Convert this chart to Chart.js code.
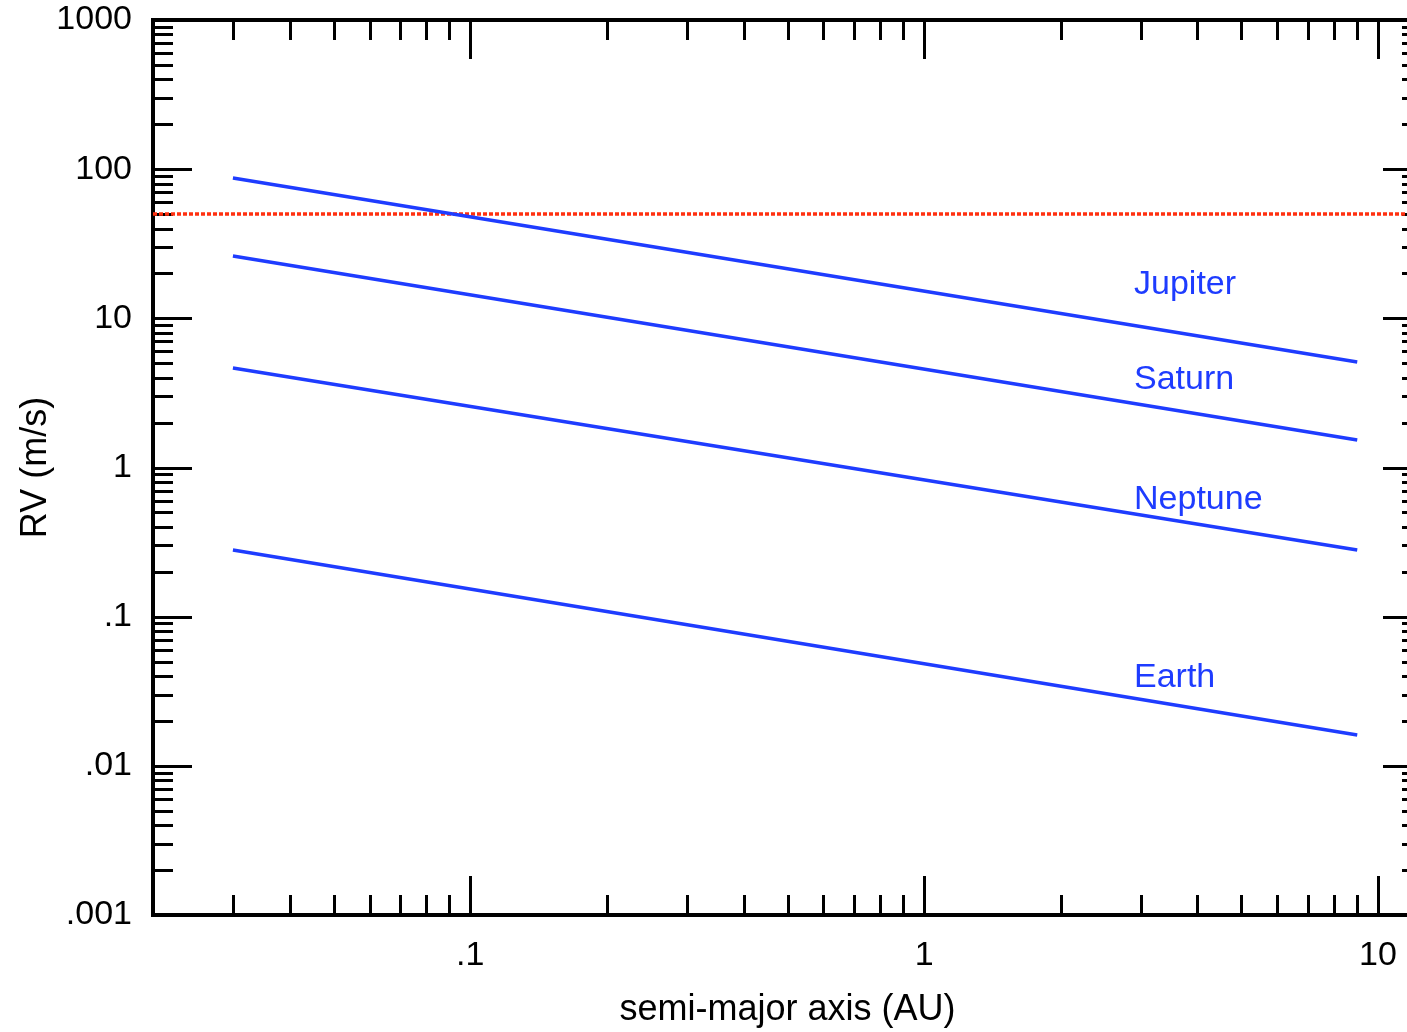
<!DOCTYPE html>
<html>
<head>
<meta charset="utf-8">
<script src="https://cdn.jsdelivr.net/npm/chart.js@4/dist/chart.umd.min.js"></script>
<style>
  html, body { margin: 0; padding: 0; background: #ffffff; overflow: hidden; }
  #wrap { width: 1430px; height: 1032px; }
</style>
</head>
<body>
<div id="wrap"><canvas id="rv" width="1430" height="1032"></canvas></div>
<script>
// Semi-major axis (AU) at the two ends of each curve
const axisAU = [0.03, 9];
// Radial-velocity semi-amplitude (m/s) at those ends
const jupiterRV = [87.3, 5.09];
const saturnRV = [26.2, 1.53];
const neptuneRV = [4.64, 0.28];
const earthRV = [0.28, 0.0161];

// Detection threshold
const thresholdAU = [0.02, 12.5];
const thresholdRV = [50, 50];

// Curve labels and where they sit (AU, m/s at text baseline)
const planetNames = ['Jupiter', 'Saturn', 'Neptune', 'Earth'];
const labelAU = [2.9, 2.9, 2.9, 2.9];
const labelRV = [14.5, 3.34, 0.523, 0.034];

// Axis ticks
const xTickValues = [0.1, 1, 10];
const xTickLabels = ['.1', '1', '10'];
const yTickValues = [0.001, 0.01, 0.1, 1, 10, 100, 1000];
const yTickLabels = ['.001', '.01', '.1', '1', '10', '100', '1000'];

const X_MIN = 0.02, X_MAX = 12.5, Y_MIN = 0.001, Y_MAX = 1000;
const BLUE = '#1e3cff';
const RED = '#ff3010';

function pts(xs, ys) { return xs.map((x, i) => ({ x: x, y: ys[i] })); }

function curve(label, ys) {
  return {
    label: label, data: pts(axisAU, ys), borderColor: BLUE, borderWidth: 3.5,
    pointRadius: 0, fill: false, tension: 0
  };
}

// Inward tick marks on all four sides plus the frame
const frameTicks = {
  id: 'frameTicks',
  beforeDatasetsDraw(chart) {
    const { ctx, chartArea: a, scales: { x, y } } = chart;
    ctx.save();
    ctx.strokeStyle = '#000';
    ctx.lineCap = 'butt';
    ctx.lineWidth = 3;
    const tick = (x0, y0, x1, y1) => { ctx.beginPath(); ctx.moveTo(x0, y0); ctx.lineTo(x1, y1); ctx.stroke(); };
    const MAJ = 39, MIN = 20;
    // x axis (bottom and top)
    for (let d = -2; d <= 1; d++) {
      for (let m = 1; m <= 9; m++) {
        const v = m * Math.pow(10, d);
        if (v < X_MIN - 1e-9 || v > X_MAX) continue;
        const px = Math.round(x.getPixelForValue(v)) + 0.5;
        const len = m === 1 ? MAJ : MIN;
        tick(px, a.bottom, px, a.bottom - len);
        tick(px, a.top, px, a.top + len);
      }
    }
    // y axis (left and right)
    for (let d = -3; d <= 3; d++) {
      for (let m = 1; m <= 9; m++) {
        const v = m * Math.pow(10, d);
        if (v < Y_MIN - 1e-12 || v > Y_MAX + 1e-9) continue;
        const py = Math.round(y.getPixelForValue(v)) + 0.5;
        const len = m === 1 ? MAJ : MIN;
        tick(a.left, py, a.left + len, py);
        tick(a.right, py, a.right - len, py);
      }
    }
    ctx.lineWidth = 4;
    ctx.strokeRect(a.left, a.top, a.right - a.left, a.bottom - a.top);
    ctx.restore();
  },
  afterDatasetsDraw(chart) {
    const { ctx, scales: { x, y } } = chart;
    ctx.save();
    ctx.fillStyle = BLUE;
    ctx.font = '34px "Liberation Sans", Arial, sans-serif';
    ctx.textAlign = 'left';
    ctx.textBaseline = 'alphabetic';
    planetNames.forEach((name, i) => {
      ctx.fillText(name, x.getPixelForValue(labelAU[i]), y.getPixelForValue(labelRV[i]));
    });
    ctx.restore();
  }
};

const tickFont = { family: '"Liberation Sans", Arial, sans-serif', size: 34 };
const titleFont = { family: '"Liberation Sans", Arial, sans-serif', size: 36 };

new Chart(document.getElementById('rv'), {
  type: 'line',
  data: {
    datasets: [
      curve('Jupiter', jupiterRV),
      curve('Saturn', saturnRV),
      curve('Neptune', neptuneRV),
      curve('Earth', earthRV),
      {
        label: 'threshold', data: pts(thresholdAU, thresholdRV), borderColor: RED,
        borderWidth: 3.5, borderDash: [4, 2], pointRadius: 0, fill: false
      }
    ]
  },
  options: {
    responsive: false,
    animation: false,
    devicePixelRatio: 1,
    layout: { padding: { left: 0, top: 20, right: 8, bottom: 0 } },
    plugins: { legend: { display: false }, tooltip: { enabled: false } },
    scales: {
      x: {
        type: 'logarithmic', min: X_MIN, max: X_MAX,
        grid: { display: false, drawTicks: false },
        border: { display: false },
        afterBuildTicks(s) { s.ticks = xTickValues.map(v => ({ value: v })); },
        afterFit(s) { s.height = 117; s.paddingLeft = 0; s.paddingRight = 0; },
        ticks: {
          autoSkip: false, maxRotation: 0, color: '#000', font: tickFont, padding: 20,
          callback(v, i) { return xTickLabels[i]; }
        },
        title: { display: true, text: 'semi-major axis (AU)', color: '#000', font: titleFont, padding: { top: 2, bottom: 0 } }
      },
      y: {
        type: 'logarithmic', min: Y_MIN, max: Y_MAX,
        grid: { display: false, drawTicks: false },
        border: { display: false },
        afterBuildTicks(s) { s.ticks = yTickValues.map(v => ({ value: v })); },
        afterFit(s) { s.width = 153; s.paddingTop = 0; s.paddingBottom = 0; },
        ticks: {
          autoSkip: false, color: '#000', font: tickFont, padding: 21,
          callback(v, i) { return yTickLabels[i]; }
        },
        title: { display: true, text: 'RV (m/s)', color: '#000', font: titleFont, padding: { top: 14, bottom: 0 } }
      }
    }
  },
  plugins: [frameTicks]
});
</script>
</body>
</html>
